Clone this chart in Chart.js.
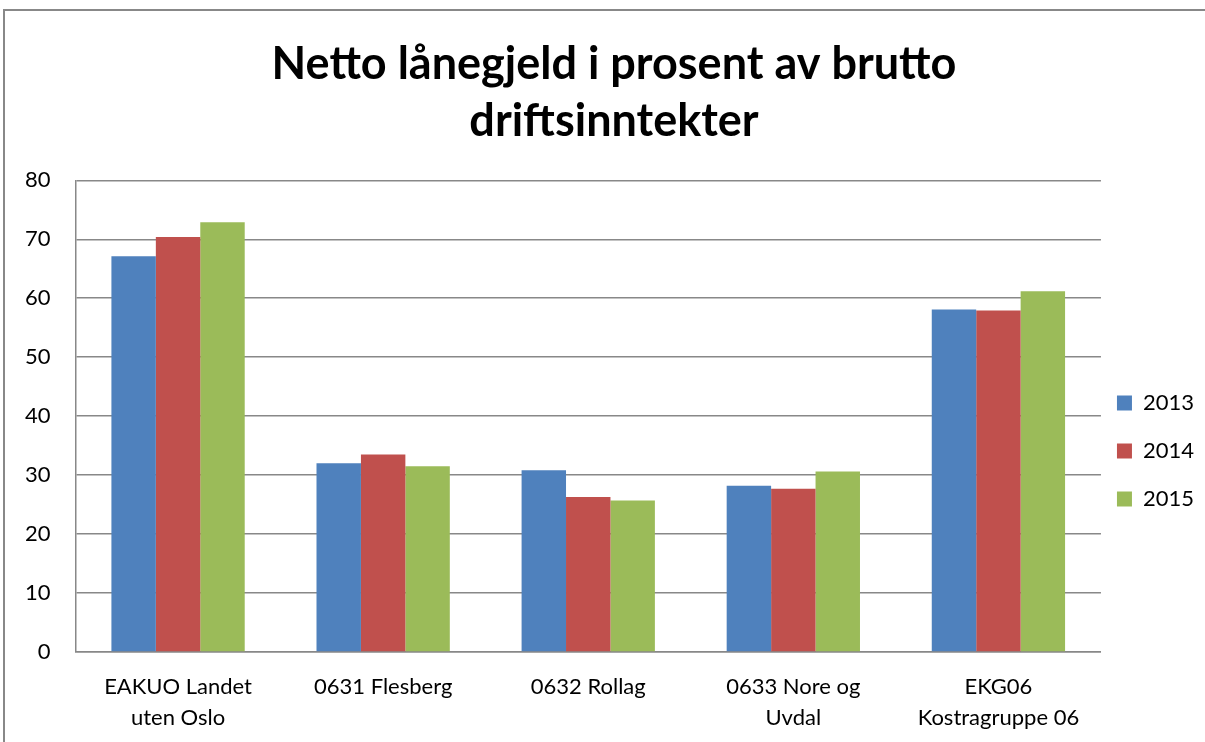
<!DOCTYPE html>
<html>
<head>
<meta charset="utf-8">
<script src="https://cdn.jsdelivr.net/npm/chart.js@4"></script>
<style>
  html, body { margin: 0; padding: 0; background: #fff; overflow: hidden; }
  #frame { position: absolute; left: 3px; top: 9px; width: 1300px; height: 800px;
           border-left: 2px solid #888; border-top: 2px solid #888; }
  #wrap { position: absolute; left: 0; top: 0; width: 1205px; height: 742px; }
</style>
</head>
<body>
<div id="frame"></div>
<div id="wrap"><canvas id="chart"></canvas></div>
<script>
// Chart data
const categories = [
  ["EAKUO Landet", "uten Oslo"],
  "0631 Flesberg",
  "0632 Rollag",
  ["0633 Nore og", "Uvdal"],
  ["EKG06", "Kostragruppe 06"]
];
const values2013 = [67.1, 32.0, 30.8, 28.2, 58.1];
const values2014 = [70.4, 33.5, 26.3, 27.7, 57.9];
const values2015 = [72.9, 31.5, 25.7, 30.6, 61.2];

// pull the legend a little closer to the plot, nudge the title right
const layoutNudge = {
  id: 'layoutNudge',
  afterLayout(chart) {
    chart.legend.left -= 10;
    chart.legend.right -= 10;
    chart.titleBlock.left += 7;
    chart.titleBlock.right += 7;
  }
};

const ctx = document.getElementById('chart').getContext('2d');
new Chart(ctx, {
  type: 'bar',
  data: {
    labels: categories,
    datasets: [
      { label: '2013', data: values2013, backgroundColor: '#4f81bd' },
      { label: '2014', data: values2014, backgroundColor: '#c0504d' },
      { label: '2015', data: values2015, backgroundColor: '#9bbb59' }
    ]
  },
  plugins: [layoutNudge],
  options: {
    responsive: true,
    maintainAspectRatio: false,
    animation: false,
    layout: { padding: { left: 0, right: -9, top: 36, bottom: -10 } },
    datasets: { bar: { categoryPercentage: 0.65, barPercentage: 1.0 } },
    plugins: {
      title: {
        display: true,
        text: ['Netto lånegjeld i prosent av brutto', 'driftsinntekter'],
        color: '#000',
        font: { family: 'Lato', size: 45, weight: 'bold', lineHeight: 1.27 },
        padding: { top: 0, bottom: 30 }
      },
      legend: {
        position: 'right',
        title: { display: true, text: ' ', font: { size: 20 }, padding: 45 },
        labels: {
          color: '#000',
          font: { family: 'Lato', size: 22 },
          boxWidth: 15,
          boxHeight: 15,
          padding: 26
        }
      },
      tooltip: { enabled: false }
    },
    scales: {
      x: {
        grid: { display: false, drawTicks: false },
        border: { color: '#888', width: 1.5 },
        ticks: { color: '#000', font: { family: 'Lato', size: 22, lineHeight: 1.41 }, padding: 19, maxRotation: 0, autoSkip: false }
      },
      y: {
        min: 0,
        max: 80,
        ticks: { stepSize: 10, color: '#000', font: { family: 'Lato', size: 22 }, padding: 25 },
        grid: { color: '#888', lineWidth: 1.5, drawTicks: false },
        border: { color: '#888', width: 1.5 }
      }
    }
  }
});
</script>
</body>
</html>
